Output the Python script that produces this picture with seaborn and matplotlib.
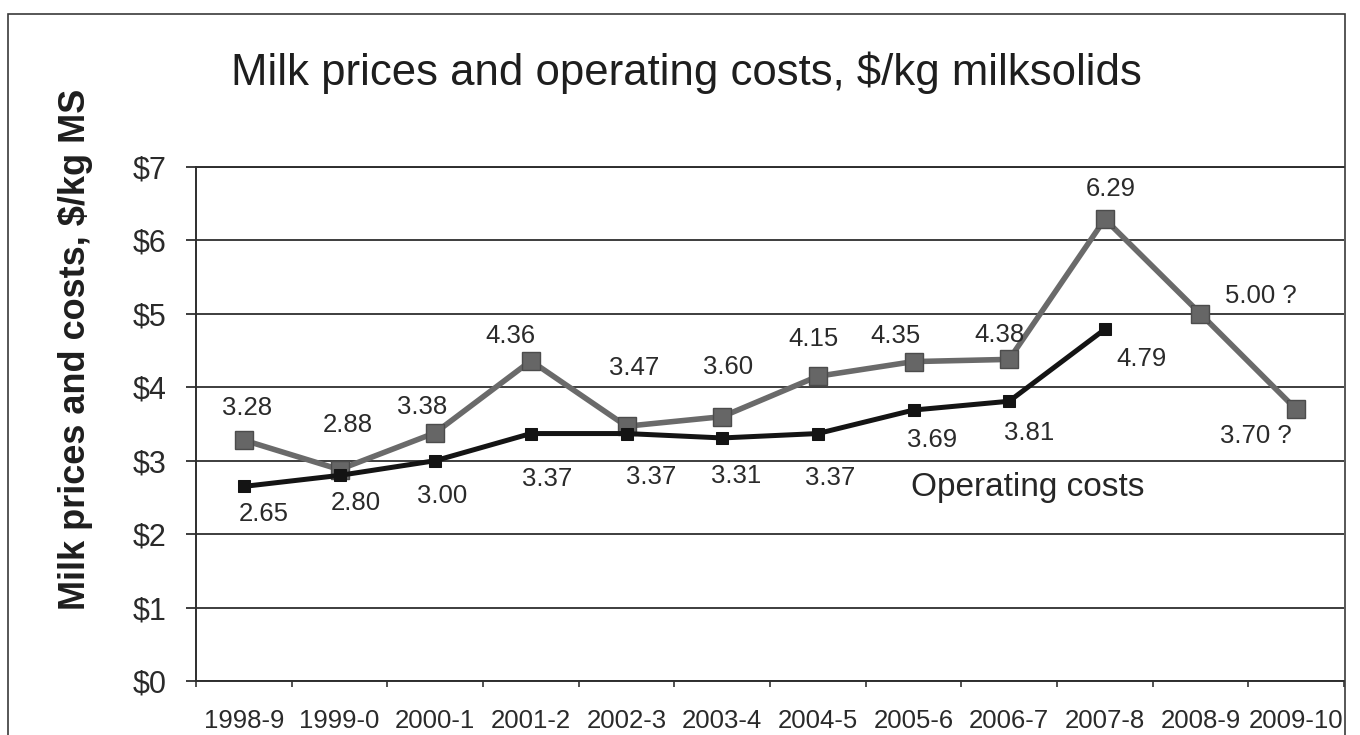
import numpy as np
import pandas as pd
import matplotlib
matplotlib.use("Agg")
import matplotlib.pyplot as plt
from matplotlib.patches import Rectangle
import seaborn as sns

# Dairy seasons and $/kg milksolids figures
seasons = ["1998-9", "1999-0", "2000-1", "2001-2", "2002-3", "2003-4",
           "2004-5", "2005-6", "2006-7", "2007-8", "2008-9", "2009-10"]
milk_price = [3.28, 2.88, 3.38, 4.36, 3.47, 3.60, 4.15, 4.35, 4.38, 6.29, 5.00, 3.70]
price_is_forecast = [False] * 10 + [True, True]
operating_cost = [2.65, 2.80, 3.00, 3.37, 3.37, 3.31, 3.37, 3.69, 3.81, 4.79]
y_ticks = [0, 1, 2, 3, 4, 5, 6, 7]

# label offsets from each point, in pixels (x right, y down)
price_label_dx = [3, 8, -13, -20, 8, 6, -4, -18, -10, 6, 60, -40]
price_label_dy = [-32, -45, -26, -25, -58, -50, -37, -26, -24, -30, -18, 27]
cost_label_dx = [20, 16, 7, 16, 25, 14, 12, 19, 20, 37]
cost_label_dy = [28, 28, 35, 45, 43, 38, 44, 30, 32, 30]

sns.set_style("white")
plt.rcParams["font.family"] = ["Liberation Sans", "DejaVu Sans"]

W, H = 1360, 735
fig = plt.figure(figsize=(W / 100, H / 100), dpi=100)
fig.patch.set_facecolor("white")
ax = fig.add_axes([196 / W, 1 - 681 / H, (1344 - 196) / W, (681 - 167) / H])

price_df = pd.DataFrame({"pos": np.arange(len(seasons)), "value": milk_price})
cost_df = pd.DataFrame({"pos": np.arange(len(operating_cost)), "value": operating_cost})

price_col = "#6a6a6a"
cost_col = "#141414"
sns.lineplot(data=price_df, x="pos", y="value", ax=ax, color=price_col,
             linewidth=4.0, marker="s", markersize=13.5,
             markerfacecolor="#666666", markeredgecolor="#4c4c4c",
             markeredgewidth=1.0, sort=False, zorder=4)
sns.lineplot(data=cost_df, x="pos", y="value", ax=ax, color=cost_col,
             linewidth=3.6, marker="s", markersize=8.5,
             markerfacecolor=cost_col, markeredgecolor=cost_col,
             sort=False, zorder=5)

label_kw = dict(textcoords="offset pixels", ha="center", va="center",
                fontsize=18.5, color="#2a2a2a", zorder=6)
for i, (v, est) in enumerate(zip(milk_price, price_is_forecast)):
    txt = f"{v:.2f}" + (" ?" if est else "")
    ax.annotate(txt, (i, v), xytext=(price_label_dx[i], -price_label_dy[i]), **label_kw)
for i, v in enumerate(operating_cost):
    ax.annotate(f"{v:.2f}", (i, v), xytext=(cost_label_dx[i], -cost_label_dy[i]), **label_kw)

ax.text(8.19, 2.64, "Operating costs", fontsize=24, color="#262626",
        ha="center", va="center", zorder=6)

# axes, grid and ticks
ax.set_xlim(-0.5, len(seasons) - 0.5)
ax.set_ylim(0, 7)
ax.set_yticks(y_ticks)
ax.set_yticklabels([f"${t}" for t in y_ticks], fontsize=22, color="#2a2a2a")
ax.yaxis.grid(True, color="#2e2e2e", linewidth=1.3)
ax.set_axisbelow(True)
ax.set_xticks(np.arange(len(seasons) + 1) - 0.5)
ax.set_xticklabels([])
ax.set_xticks(np.arange(len(seasons)), minor=True)
ax.set_xticklabels(seasons, minor=True, fontsize=18.5, color="#2a2a2a")
ax.tick_params(axis="x", which="major", direction="out", length=4, width=1.2,
               color="#333333", bottom=True)
ax.tick_params(axis="x", which="minor", length=0, pad=20)
ax.tick_params(axis="y", direction="out", length=7, width=1.3, color="#2e2e2e",
               pad=14, left=True)
ax.set_xlabel("")
ax.set_ylabel("")
for side in ["top", "left", "bottom"]:
    ax.spines[side].set_visible(True)
    ax.spines[side].set_color("#2e2e2e")
    ax.spines[side].set_linewidth(1.4)
ax.spines["right"].set_visible(False)

# chart frame
fig.patches.append(Rectangle((8 / W, -0.05), (1345 - 8) / W, 1.05 - 14 / H,
                             transform=fig.transFigure, fill=False,
                             edgecolor="#3a3a3a", linewidth=1.2))

fig.text(686 / W, 1 - 73 / H, "Milk prices and operating costs, $/kg milksolids",
         ha="center", va="center", fontsize=31.5, color="#1e1e1e")
fig.text(76 / W, 1 - 349 / H, "Milk prices and costs, $/kg MS", rotation=90,
         ha="center", va="center", fontsize=26, fontweight="bold", color="#1e1e1e")

fig.savefig("out.png", dpi=100, facecolor="white")
